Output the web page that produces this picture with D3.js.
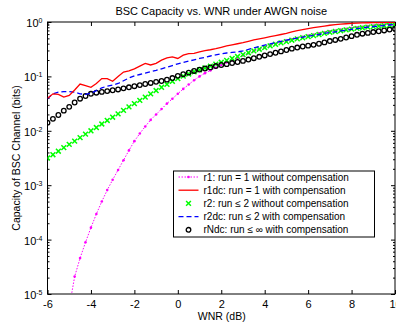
<!DOCTYPE html>
<html lang="en">
<head>
<meta charset="UTF-8">
<title>BSC Capacity vs. WNR</title>
<script src="https://d3js.org/d3.v7.min.js"></script>
<style>
    body { margin: 0; background: #fff; }
    svg text { font-family: "Liberation Sans", Arial, sans-serif; fill: #000; }
</style>
</head>
<body>
<div id="chart"></div>
<script>
    // WNR grid (dB), one point every 0.25 dB
    const wnr = [-6, -5.75, -5.5, -5.25, -5, -4.75, -4.5, -4.25, -4, -3.75, -3.5, -3.25,
        -3, -2.75, -2.5, -2.25, -2, -1.75, -1.5, -1.25, -1, -0.75, -0.5, -0.25,
        0, 0.25, 0.5, 0.75, 1, 1.25, 1.5, 1.75, 2, 2.25, 2.5, 2.75, 3, 3.25, 3.5, 3.75,
        4, 4.25, 4.5, 4.75, 5, 5.25, 5.5, 5.75, 6, 6.25, 6.5, 6.75, 7, 7.25, 7.5, 7.75,
        8, 8.25, 8.5, 8.75, 9, 9.25, 9.5, 9.75, 10];

    // capacities, stored as log10(bits)
    const r1 = [null, null, null, null,
        -5.25, -4.68, -4.34, -4.05, -3.78, -3.53, -3.30, -3.09,
        -2.90, -2.72, -2.54, -2.36, -2.19, -2.05, -1.92, -1.80,
        -1.70, -1.60, -1.50, -1.41, -1.32, -1.23, -1.15, -1.07,
        -1.00, -0.94, -0.89, -0.84, -0.79, -0.745, -0.70, -0.66,
        -0.615, -0.575, -0.535, -0.50, -0.465, -0.43, -0.40, -0.37,
        -0.345, -0.32, -0.295, -0.27, -0.25, -0.23, -0.21, -0.19,
        -0.17, -0.155, -0.14, -0.125, -0.11, -0.098, -0.087, -0.076,
        -0.066, -0.057, -0.049, -0.042, -0.036];

    const r1dc = [-1.40, -1.32, -1.33, -1.38, -1.35, -1.25, -1.14, -1.17,
        -1.20, -1.13, -1.04, -1.04, -1.09, -1.00, -0.92, -0.90,
        -0.86, -0.81, -0.76, -0.79, -0.76, -0.70, -0.66, -0.64,
        -0.67, -0.61, -0.58, -0.575, -0.55, -0.525, -0.51, -0.49,
        -0.465, -0.44, -0.42, -0.40, -0.38, -0.355, -0.33, -0.31,
        -0.29, -0.27, -0.25, -0.23, -0.21, -0.18, -0.16, -0.14,
        -0.12, -0.105, -0.09, -0.075, -0.06, -0.05, -0.04, -0.032,
        -0.026, -0.021, -0.017, -0.014, -0.012, -0.009, -0.007, -0.005,
        -0.003];

    const r2 = [-2.50, -2.44, -2.375, -2.31, -2.25, -2.19, -2.125, -2.06,
        -2.00, -1.94, -1.875, -1.81, -1.75, -1.69, -1.625, -1.56,
        -1.50, -1.44, -1.38, -1.32, -1.26, -1.20, -1.145, -1.09,
        -1.04, -0.995, -0.955, -0.915, -0.88, -0.845, -0.81, -0.775,
        -0.74, -0.705, -0.67, -0.635, -0.60, -0.565, -0.53, -0.50,
        -0.47, -0.44, -0.41, -0.385, -0.36, -0.335, -0.31, -0.29,
        -0.27, -0.25, -0.23, -0.21, -0.19, -0.175, -0.16, -0.145,
        -0.13, -0.118, -0.106, -0.095, -0.085, -0.076, -0.068, -0.06,
        -0.053];

    const r2dc = [-1.41, -1.32, -1.29, -1.28, -1.28, -1.29, -1.32, -1.33,
        -1.31, -1.26, -1.21, -1.18, -1.16, -1.13, -1.08, -1.03,
        -0.99, -0.965, -0.94, -0.915, -0.89, -0.86, -0.83, -0.80,
        -0.77, -0.745, -0.72, -0.695, -0.67, -0.65, -0.625, -0.605,
        -0.585, -0.57, -0.56, -0.55, -0.53, -0.505, -0.475, -0.45,
        -0.425, -0.40, -0.38, -0.355, -0.335, -0.315, -0.295, -0.28,
        -0.26, -0.245, -0.23, -0.21, -0.195, -0.18, -0.165, -0.15,
        -0.135, -0.12, -0.11, -0.095, -0.085, -0.075, -0.065, -0.055,
        -0.047];

    const rNdc = [-1.85, -1.78, -1.71, -1.63, -1.56, -1.48, -1.41, -1.36,
        -1.32, -1.30, -1.285, -1.27, -1.255, -1.24, -1.22, -1.20,
        -1.18, -1.16, -1.14, -1.12, -1.10, -1.085, -1.06, -1.03,
        -0.99, -0.96, -0.93, -0.90, -0.875, -0.855, -0.835, -0.81,
        -0.79, -0.775, -0.755, -0.735, -0.715, -0.69, -0.665, -0.64,
        -0.615, -0.59, -0.565, -0.54, -0.515, -0.49, -0.47, -0.45,
        -0.435, -0.42, -0.40, -0.375, -0.35, -0.33, -0.31, -0.285,
        -0.26, -0.235, -0.215, -0.20, -0.185, -0.17, -0.155, -0.14,
        -0.125];

    const xTicks = [-6, -4, -2, 0, 2, 4, 6, 8, 10];
    const yExponents = [-5, -4, -3, -2, -1, 0];

    const legendLabels = [
        "r1: run = 1 without compensation",
        "r1dc: run = 1 with compensation",
        "r2: run \u2264 2 without compensation",
        "r2dc: run \u2264 2 with compensation",
        "rNdc: run \u2264 \u221e with compensation"
    ];

    const W = 396, H = 329;
    const plot = { left: 47.5, right: 395, top: 22, bottom: 294 };

    const svg = d3.select("#chart").append("svg")
        .attr("width", W).attr("height", H);

    const x = d3.scaleLinear().domain([-6, 10]).range([plot.left, plot.right]);
    const y = d3.scaleLog().domain([1e-5, 1]).range([plot.bottom, plot.top]);

    // turn the log10 readings into points
    function toPoints(arr) {
        return wnr.map((w, i) => arr[i] === null ? null : { w: w, c: Math.pow(10, arr[i]) })
            .filter(d => d !== null);
    }

    svg.append("clipPath").attr("id", "clip")
        .append("rect")
        .attr("x", plot.left).attr("y", plot.top)
        .attr("width", plot.right - plot.left).attr("height", plot.bottom - plot.top);

    const majors = yExponents.map(e => Math.pow(10, e));
    const minors = [];
    yExponents.slice(0, -1).forEach(e => {
        for (let m = 2; m <= 9; m++) minors.push(m * Math.pow(10, e));
    });

    // axes (ticks pointing inward, MATLAB style)
    const gx = svg.append("g")
        .attr("transform", "translate(0," + plot.bottom + ")")
        .call(d3.axisBottom(x).tickValues(xTicks).tickSize(-4).tickPadding(6)
            .tickFormat(d => d));
    gx.selectAll("text").style("font-size", "11px");

    svg.append("g")
        .attr("transform", "translate(0," + plot.top + ")")
        .call(d3.axisTop(x).tickValues(xTicks).tickSize(-4).tickFormat(""));

    const gy = svg.append("g")
        .attr("transform", "translate(" + plot.left + ",0)")
        .call(d3.axisLeft(y).tickValues(majors).tickSize(-4).tickPadding(5).tickFormat(""));
    gy.selectAll(".tick text")
        .style("font-size", "11px")
        .attr("dy", "0.4em")
        .each(function (d) {
            const t = d3.select(this);
            t.append("tspan").text("10");
            t.append("tspan").attr("dy", "-0.55em").style("font-size", "7px")
                .text(Math.round(Math.log10(d)));
        });

    svg.append("g")
        .attr("transform", "translate(" + plot.left + ",0)")
        .call(d3.axisLeft(y).tickValues(minors).tickSize(-2).tickFormat(""));

    svg.append("g")
        .attr("transform", "translate(" + plot.right + ",0)")
        .call(d3.axisRight(y).tickValues(majors).tickSize(-4).tickFormat(""));
    svg.append("g")
        .attr("transform", "translate(" + plot.right + ",0)")
        .call(d3.axisRight(y).tickValues(minors).tickSize(-2).tickFormat(""));

    svg.selectAll(".domain").remove();
    svg.selectAll(".tick line").attr("stroke", "#000");

    svg.append("rect")
        .attr("x", plot.left).attr("y", plot.top)
        .attr("width", plot.right - plot.left).attr("height", plot.bottom - plot.top)
        .attr("fill", "none").attr("stroke", "#000").attr("stroke-width", 1);

    const line = d3.line().x(d => x(d.w)).y(d => y(d.c));
    const curves = svg.append("g").attr("clip-path", "url(#clip)");

    // r1: magenta dotted line with point markers
    const p1 = toPoints(r1);
    curves.append("path").datum(p1).attr("d", line)
        .attr("fill", "none").attr("stroke", "#ff00ff")
        .attr("stroke-width", 1).attr("stroke-dasharray", "1.5,1.5");
    curves.selectAll(".r1dot").data(p1).enter().append("circle")
        .attr("class", "r1dot")
        .attr("cx", d => x(d.w)).attr("cy", d => y(d.c)).attr("r", 1.3)
        .attr("fill", "#ff00ff");

    // r2: green x markers only
    const p2 = toPoints(r2);
    function crossPath(cx, cy, s) {
        return "M" + (cx - s) + "," + (cy - s) + "L" + (cx + s) + "," + (cy + s) +
            "M" + (cx - s) + "," + (cy + s) + "L" + (cx + s) + "," + (cy - s);
    }
    curves.selectAll(".r2x").data(p2).enter().append("path")
        .attr("class", "r2x")
        .attr("d", d => crossPath(x(d.w), y(d.c), 2.4))
        .attr("stroke", "#00ff00").attr("stroke-width", 1.5).attr("fill", "none");

    // rNdc: black circles
    const pN = toPoints(rNdc);
    curves.selectAll(".rNo").data(pN).enter().append("circle")
        .attr("class", "rNo")
        .attr("cx", d => x(d.w)).attr("cy", d => y(d.c)).attr("r", 2.3)
        .attr("fill", "none").attr("stroke", "#000").attr("stroke-width", 1.3);

    // r2dc: blue dashed
    curves.append("path").datum(toPoints(r2dc)).attr("d", line)
        .attr("fill", "none").attr("stroke", "#0000ff")
        .attr("stroke-width", 1.3).attr("stroke-dasharray", "5,3");

    // r1dc: red solid
    curves.append("path").datum(toPoints(r1dc)).attr("d", line)
        .attr("fill", "none").attr("stroke", "#ff0000").attr("stroke-width", 1.3);

    // title and axis labels
    svg.append("text")
        .attr("x", (plot.left + plot.right) / 2).attr("y", 15)
        .attr("text-anchor", "middle").style("font-size", "11px")
        .text("BSC Capacity vs. WNR under AWGN noise");

    svg.append("text")
        .attr("x", (plot.left + plot.right) / 2 + 0.5).attr("y", 320)
        .attr("text-anchor", "middle").style("font-size", "10.5px")
        .text("WNR (dB)");

    svg.append("text")
        .attr("transform", "translate(20," + ((plot.top + plot.bottom) / 2) + ") rotate(-90)")
        .attr("text-anchor", "middle").style("font-size", "10.5px")
        .text("Capacity of BSC Channel (bits)");

    // legend
    const lg = svg.append("g").attr("transform", "translate(173.5,171)");
    lg.append("rect").attr("width", 201).attr("height", 66)
        .attr("fill", "#fff").attr("stroke", "#000").attr("stroke-width", 1);
    const rowY = i => 6 + i * 13.2;
    legendLabels.forEach((label, i) => {
        const row = lg.append("g").attr("transform", "translate(0," + rowY(i) + ")");
        row.append("text").attr("x", 30).attr("y", 0).attr("dy", "0.35em")
            .style("font-size", "10px").text(label);
        if (i === 0) {
            row.append("line").attr("x1", 5).attr("x2", 25)
                .attr("stroke", "#ff00ff").attr("stroke-dasharray", "1.5,1.5");
            row.append("circle").attr("cx", 15).attr("r", 1.3).attr("fill", "#ff00ff");
        } else if (i === 1) {
            row.append("line").attr("x1", 5).attr("x2", 25)
                .attr("stroke", "#ff0000").attr("stroke-width", 1.3);
        } else if (i === 2) {
            row.append("path").attr("d", crossPath(15, 0, 2.4))
                .attr("stroke", "#00ff00").attr("stroke-width", 1.5);
        } else if (i === 3) {
            row.append("line").attr("x1", 5).attr("x2", 25)
                .attr("stroke", "#0000ff").attr("stroke-width", 1.3)
                .attr("stroke-dasharray", "5,3");
        } else {
            row.append("circle").attr("cx", 15).attr("r", 2.3)
                .attr("fill", "none").attr("stroke", "#000").attr("stroke-width", 1.3);
        }
    });
</script>
</body>
</html>
